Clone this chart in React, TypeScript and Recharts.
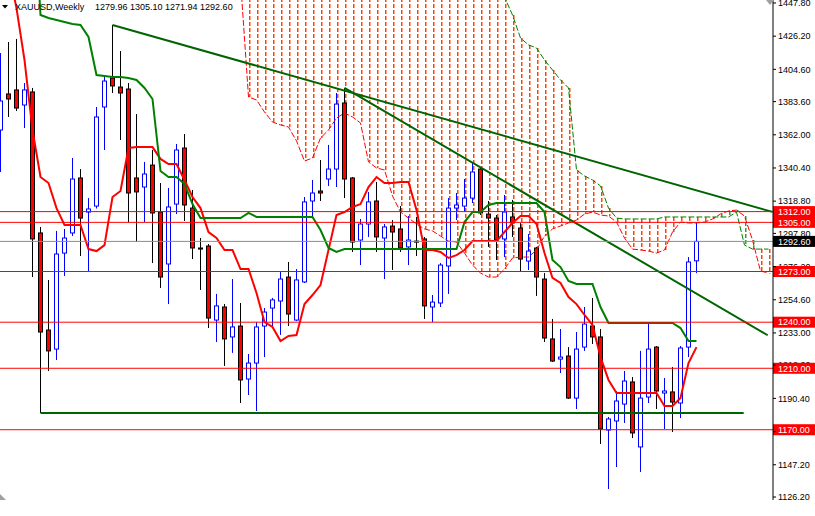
import React from 'react';
import { ComposedChart, Bar, Line, XAxis, YAxis, ReferenceLine } from 'recharts';

// weekly XAUUSD, one entry per week starting 19 May 2013
const dateTicks = [0, 8, 16, 24, 32, 40, 48, 56, 64, 72, 80];
const dateLabels = ['19 May 2013', '14 Jul 2013', '8 Sep 2013', '3 Nov 2013', '29 Dec 2013', '23 Feb 2014',
    '20 Apr 2014', '15 Jun 2014', '10 Aug 2014', '5 Oct 2014', '30 Nov 2014'];
const priceTicks = [1447.8, 1426.2, 1404.6, 1383.6, 1362.0, 1340.4, 1318.8, 1297.8, 1276.2, 1254.6,
    1233.0, 1212.0, 1190.4, 1168.8, 1147.2, 1126.2];

const opens = [
    1365.1, 1388.6, 1391.2, 1381.4, 1389.9, 1298.1, 1234.9, 1222.5, 1285.0, 1298.1,
    1333.9, 1311.7, 1315.6, 1380.1, 1399.0, 1393.1, 1391.8, 1333.9, 1328.0, 1342.3,
    1311.7, 1277.9, 1316.9, 1353.4, 1314.3, 1288.3, 1289.6, 1241.4, 1249.9, 1230.4,
    1237.5, 1203.0, 1213.4, 1237.5, 1249.2, 1253.8, 1269.4, 1241.4, 1266.2, 1318.9,
    1325.4, 1333.2, 1339.7, 1382.7, 1333.9, 1293.5, 1303.9, 1318.9, 1294.8, 1302.6,
    1300.7, 1289.0, 1292.8, 1294.2, 1249.9, 1252.5, 1276.6, 1314.3, 1315.6, 1320.8,
    1339.7, 1310.4, 1307.8, 1294.2, 1308.5, 1301.3, 1279.8, 1288.3, 1268.1, 1229.1,
    1216.0, 1218.0, 1190.6, 1223.8, 1237.5, 1230.4, 1169.8, 1175.7, 1186.7, 1201.1,
    1158.8, 1191.3, 1223.8, 1193.9, 1194.6, 1187.4, 1223.8, 1279.96,
];
const highs = [
    1415.2, 1422.4, 1424.4, 1395.7, 1392.5, 1302.0, 1267.5, 1299.4, 1300.7, 1346.9,
    1339.7, 1320.8, 1380.1, 1399.6, 1433.5, 1416.5, 1395.7, 1375.5, 1344.3, 1352.1,
    1330.6, 1327.4, 1356.0, 1362.5, 1326.1, 1294.8, 1290.9, 1258.4, 1251.8, 1268.1,
    1252.5, 1219.3, 1240.1, 1249.2, 1255.8, 1272.7, 1279.2, 1274.6, 1321.5, 1332.6,
    1345.6, 1355.4, 1389.2, 1392.5, 1334.5, 1307.2, 1324.8, 1331.3, 1303.9, 1306.5,
    1315.6, 1309.1, 1308.5, 1295.5, 1257.7, 1278.5, 1320.8, 1324.1, 1333.2, 1343.6,
    1340.4, 1318.9, 1309.8, 1322.8, 1319.6, 1304.6, 1297.4, 1289.0, 1272.0, 1242.1,
    1235.6, 1223.8, 1233.6, 1249.9, 1255.8, 1235.6, 1178.3, 1195.2, 1208.2, 1204.3,
    1221.3, 1238.8, 1224.5, 1203.7, 1210.8, 1224.5, 1282.4, 1305.10,
];
const lows = [
    1337.8, 1373.6, 1377.5, 1366.4, 1269.4, 1180.9, 1208.2, 1215.4, 1270.1, 1296.1,
    1283.1, 1273.3, 1314.0, 1352.1, 1389.2, 1358.6, 1305.2, 1292.2, 1305.2, 1278.5,
    1262.3, 1251.8, 1310.4, 1305.9, 1281.1, 1261.0, 1236.2, 1227.1, 1211.5, 1220.0,
    1187.4, 1192.6, 1182.2, 1217.3, 1236.2, 1231.7, 1237.5, 1240.8, 1265.5, 1308.5,
    1318.9, 1328.7, 1328.0, 1320.8, 1285.7, 1277.2, 1295.5, 1285.7, 1268.1, 1274.0,
    1285.7, 1277.2, 1283.1, 1242.1, 1240.1, 1249.9, 1258.4, 1306.5, 1311.7, 1317.6,
    1309.8, 1289.0, 1280.5, 1282.4, 1295.5, 1273.3, 1274.0, 1257.1, 1227.1, 1214.1,
    1206.9, 1190.0, 1183.5, 1221.3, 1225.8, 1160.7, 1131.4, 1145.7, 1174.4, 1164.6,
    1142.5, 1187.4, 1183.5, 1170.5, 1168.5, 1177.6, 1217.3, 1271.94,
];
const closes = [
    1384.0, 1385.3, 1379.4, 1391.2, 1294.2, 1233.6, 1221.3, 1284.4, 1294.8, 1333.2,
    1307.8, 1313.7, 1373.6, 1397.0, 1393.8, 1389.2, 1324.1, 1324.8, 1336.5, 1311.1,
    1269.4, 1315.0, 1352.1, 1316.3, 1288.3, 1287.6, 1242.7, 1250.6, 1229.1, 1236.9,
    1202.4, 1213.4, 1236.9, 1246.6, 1254.5, 1268.1, 1245.3, 1267.5, 1318.3, 1324.1,
    1324.1, 1339.7, 1382.0, 1333.2, 1292.2, 1303.9, 1318.3, 1295.5, 1302.0, 1298.7,
    1288.3, 1293.5, 1292.2, 1250.6, 1253.1, 1277.2, 1314.3, 1316.3, 1320.8, 1337.8,
    1311.1, 1307.8, 1293.5, 1311.7, 1304.6, 1281.1, 1286.3, 1269.4, 1229.7, 1214.7,
    1217.3, 1190.6, 1222.5, 1238.8, 1230.4, 1170.5, 1177.0, 1188.7, 1201.7, 1167.9,
    1190.6, 1222.5, 1195.2, 1195.2, 1188.0, 1223.2, 1279.2, 1292.60,
];

// Ichimoku lines
const tenkan = [
    1479.0, 1469.3, 1444.5, 1410.7, 1365.1, 1334.5, 1330.6, 1314.3, 1303.3, 1303.3,
    1303.3, 1287.6, 1286.3, 1290.2, 1321.5, 1325.4, 1353.4, 1354.0, 1354.0, 1354.0,
    1346.3, 1343.0, 1343.0, 1332.6, 1321.5, 1314.3, 1298.7, 1294.8, 1287.0, 1287.0,
    1274.6, 1274.6, 1259.0, 1240.1, 1236.9, 1227.7, 1231.0, 1231.6, 1251.8, 1257.7,
    1264.2, 1287.0, 1309.8, 1311.7, 1315.0, 1316.9, 1328.0, 1334.5, 1330.6, 1330.6,
    1331.3, 1331.3, 1313.0, 1287.0, 1287.0, 1285.7, 1281.8, 1283.7, 1287.0, 1292.8,
    1292.8, 1292.8, 1292.8, 1298.7, 1304.6, 1309.1, 1309.1, 1303.9, 1285.0, 1268.8,
    1265.5, 1256.4, 1251.8, 1244.7, 1238.2, 1217.3, 1202.4, 1193.9, 1193.9, 1193.9,
    1193.9, 1193.9, 1193.9, 1185.4, 1185.4, 1190.6, 1213.4, 1223.8,
];
const kijun = [
    1530.0, 1530.0, 1530.0, 1530.0, 1530.0, 1440.0, 1438.0, 1436.7, 1435.4, 1434.1,
    1433.5, 1425.7, 1400.9, 1400.3, 1399.6, 1399.6, 1399.0, 1397.7, 1392.5, 1385.3,
    1338.4, 1334.5, 1334.5, 1330.0, 1316.9, 1307.8, 1307.8, 1307.8, 1307.8, 1307.8,
    1307.8, 1311.1, 1308.5, 1308.5, 1308.5, 1308.5, 1308.5, 1308.5, 1308.5, 1308.5,
    1300.0, 1288.3, 1285.7, 1287.6, 1287.6, 1287.6, 1287.6, 1287.6, 1287.6, 1287.6,
    1287.6, 1287.6, 1287.6, 1287.6, 1287.6, 1287.6, 1287.6, 1287.6, 1305.2, 1311.7,
    1311.7, 1316.3, 1317.6, 1317.6, 1317.6, 1317.6, 1317.6, 1317.6, 1311.7, 1280.5,
    1275.9, 1266.8, 1264.9, 1264.9, 1264.9, 1249.9, 1239.5, 1239.5, 1239.5, 1239.5,
    1239.5, 1239.5, 1239.5, 1239.5, 1239.5, 1236.2, 1227.8, 1227.8,
];

// senkou spans, shifted forward, first value belongs to week 30
const kumoStart = 30;
const spanA = [
    1462.8, 1386.6, 1384.7, 1376.8, 1370.3, 1368.4, 1367.1, 1358.0, 1344.9, 1346.9,
    1359.9, 1365.1, 1372.9, 1376.2, 1373.6, 1369.7, 1344.3, 1340.4, 1339.1, 1322.2,
    1311.7, 1307.8, 1303.9, 1300.7, 1299.4, 1296.1, 1292.8, 1292.2, 1285.0, 1277.2,
    1272.0, 1269.4, 1269.4, 1274.6, 1281.8, 1282.4, 1282.4, 1287.0, 1296.1, 1300.7,
    1302.6, 1304.6, 1306.5, 1310.4, 1311.7, 1309.8, 1309.1, 1305.2, 1294.8, 1287.6,
    1287.0, 1286.3, 1285.0, 1287.0, 1298.7, 1305.2, 1304.6, 1304.6, 1305.2, 1307.2,
    1310.4, 1312.4, 1313.0, 1309.1, 1293.5, 1273.3, 1272.0,
];
const spanB = [
    1484.0, 1484.0, 1484.0, 1484.0, 1484.0, 1484.0, 1484.0, 1484.0, 1484.0, 1484.0,
    1484.0, 1484.0, 1480.0, 1480.0, 1480.0, 1480.0, 1480.0, 1478.0, 1478.0, 1478.0,
    1476.0, 1476.0, 1476.0, 1474.0, 1474.0, 1472.0, 1470.0, 1470.0, 1468.0, 1466.0,
    1466.0, 1464.0, 1462.8, 1451.7, 1440.0, 1425.0, 1420.5, 1418.5, 1410.7, 1404.2,
    1397.7, 1392.5, 1339.1, 1335.2, 1332.6, 1328.7, 1314.3, 1307.8, 1307.2, 1307.2,
    1307.2, 1307.2, 1307.2, 1308.5, 1308.5, 1308.5, 1308.5, 1308.5, 1308.5, 1308.5,
    1308.5, 1308.5, 1311.7, 1290.2, 1287.6, 1287.6, 1287.6,
];

const levels = [1312, 1305, 1273, 1240, 1210, 1170];
const lastPrice = 1292.6;
const trendLines = [
    [{ x: 14, y: 1433.5 }, { x: 96.5, y: 1311.8 }],
    [{ x: 43, y: 1392.5 }, { x: 95.9, y: 1231.5 }],
    [{ x: 5, y: 1180.9 }, { x: 92.9, y: 1180.9 }],
];

const lastIndex = 96;
const rows: any[] = [];
for (let k = 0; k <= lastIndex; k++) {
    const r: any = { k };
    if (k < opens.length) {
        r.o = opens[k]; r.h = highs[k]; r.l = lows[k]; r.c = closes[k];
        r.candle = [lows[k], highs[k]];
        r.tenkan = tenkan[k];
        r.kijun = kijun[k];
    }
    const j = k - kumoStart;
    if (j >= 0 && j < spanA.length) {
        r.a = spanA[j];
        r.b = spanB[j];
        r.kumo = [Math.min(spanA[j], spanB[j]), Math.max(spanA[j], spanB[j])];
    }
    rows.push(r);
}

const FONT = '"Liberation Sans", Arial, sans-serif';
const FS = 9;
const HATCH_DOWN = '#FF4500';
const HATCH_UP = '#2DA02D';

const Candle = (props: any) => {
    const { x, y, width, height, payload } = props;
    if (payload == null || payload.h == null) return null;
    const top = Math.min(y, y + height);
    const len = Math.abs(height);
    const cx = Math.round(x + width / 2) + 0.5;
    const span = payload.h - payload.l;
    const yOf = (v: number) => (span === 0 ? top : top + ((payload.h - v) / span) * len);
    const up = payload.c >= payload.o;
    const bTop = yOf(Math.max(payload.o, payload.c));
    const bBot = yOf(Math.min(payload.o, payload.c));
    return (
        <g>
            <line x1={cx} x2={cx} y1={top} y2={top + len} stroke={up ? '#0000FF' : '#000000'} strokeWidth={1} />
            <rect x={cx - 2} y={bTop} width={4} height={Math.max(bBot - bTop, 1)}
                fill={up ? '#FFFFFF' : '#FF0000'} stroke={up ? '#0000FF' : '#000000'} strokeWidth={1} />
        </g>
    );
};

// dotted histogram between the two senkou spans
const KumoHatch = (props: any) => {
    const { x, y, width, height, payload } = props;
    if (payload == null || payload.a == null) return null;
    const top = Math.max(Math.min(y, y + height), -2);
    const bottom = Math.max(y, y + height);
    if (bottom <= top) return null;
    const left = Math.round(x + width / 2);
    const color = payload.a > payload.b ? HATCH_UP : HATCH_DOWN;
    const dashes = [];
    for (let yy = Math.round(top); yy < bottom; yy += 6) {
        dashes.push(
            <rect key={yy} x={left} y={yy} width={1.5} height={Math.max(Math.min(4, bottom - yy), 0.5)}
                fill={color} stroke="none" />
        );
    }
    return <g>{dashes}</g>;
};

const axisBox = (props: any, text: string, bg: string) => {
    const { viewBox } = props;
    if (!viewBox) return null;
    const right = viewBox.x + viewBox.width;
    return (
        <g>
            <rect x={right} y={viewBox.y - 5.5} width={42} height={11} fill={bg} />
            <text x={right + 5} y={viewBox.y} dy="0.36em" fill="#FFFFFF" fontSize={FS} fontFamily={FONT}>{text}</text>
        </g>
    );
};

const priceLabel = (props: any, value: number) => {
    const { viewBox } = props;
    if (!viewBox) return null;
    return (
        <text x={viewBox.x + viewBox.width + 5} y={viewBox.y} dy="0.36em" fill="#000000" fontSize={FS} fontFamily={FONT}>
            {value.toFixed(2)}
        </text>
    );
};

const NoTick = () => <g />;

const DateTick = (props: any) => {
    const { x, y, payload } = props;
    const idx = dateTicks.indexOf(payload.value);
    return (
        <text x={x + 1} y={y + 4.5} fill="#000000" fontSize={FS} fontFamily={FONT} textAnchor="start">
            {idx >= 0 ? dateLabels[idx] : ''}
        </text>
    );
};

const App = () => {
    const xDomain: [number, number] = [-0.0625, 96.5625];
    return (
        <div style={{ position: 'absolute', left: 0, top: 0, width: 815, height: 516, background: '#FFFFFF' }}>
            <ComposedChart width={815} height={516} data={rows} margin={{ top: 0, right: 0, bottom: 0, left: 0 }}>
                <XAxis xAxisId="main" dataKey="k" type="number" domain={xDomain} allowDataOverflow
                    ticks={dateTicks} tick={<DateTick />} tickSize={4} tickMargin={2} height={16}
                    axisLine={{ stroke: '#000000' }} tickLine={{ stroke: '#000000' }} interval={0} />
                <XAxis xAxisId="kumo" dataKey="k" type="number" domain={xDomain} allowDataOverflow hide />
                <YAxis orientation="right" type="number" domain={[1124.25, 1449.75]} allowDataOverflow
                    ticks={priceTicks} tick={<NoTick />} tickSize={3} tickMargin={2} width={42} interval={0}
                    axisLine={{ stroke: '#000000' }} tickLine={{ stroke: '#000000' }} />

                <Bar xAxisId="kumo" dataKey="kumo" barSize={2} fill={HATCH_DOWN} shape={<KumoHatch />} isAnimationActive={false} />
                <Line xAxisId="main" dataKey="a" type="linear" stroke="#FF0000" strokeWidth={1} strokeDasharray="6 2"
                    dot={false} isAnimationActive={false} />
                <Line xAxisId="main" dataKey="b" type="linear" stroke="#008000" strokeWidth={1} strokeDasharray="6 2"
                    dot={false} isAnimationActive={false} />

                <Bar xAxisId="main" dataKey="candle" barSize={7} shape={<Candle />} isAnimationActive={false} />

                <Line xAxisId="main" dataKey="tenkan" type="linear" stroke="#FF0000" strokeWidth={2}
                    dot={false} isAnimationActive={false} />
                <Line xAxisId="main" dataKey="kijun" type="linear" stroke="#008000" strokeWidth={2}
                    dot={false} isAnimationActive={false} />

                {trendLines.map((seg, i) => (
                    <ReferenceLine key={`tl-${i}`} xAxisId="main" segment={seg} stroke="#006400" strokeWidth={2} />
                ))}
                {priceTicks.map((t) => (
                    <ReferenceLine key={`pt-${t}`} xAxisId="main" y={t} stroke="none"
                        label={(p: any) => priceLabel(p, t)} />
                ))}
                <ReferenceLine xAxisId="main" y={lastPrice} stroke="#8C8C8C" strokeWidth={1}
                    label={(p: any) => axisBox(p, lastPrice.toFixed(2), '#000000')} />
                {levels.map((lv) => (
                    <ReferenceLine key={`lv-${lv}`} xAxisId="main" y={lv} stroke="#FF0000" strokeWidth={1}
                        label={(p: any) => axisBox(p, lv.toFixed(2), '#FF0000')} />
                ))}
            </ComposedChart>
            <svg width={815} height={516} style={{ position: 'absolute', left: 0, top: 0, pointerEvents: 'none' }}>
                <polygon points="2,5 8,5 5,8.5" fill="#000000" />
                <polygon points="766,0 774,0 770,5" fill="#A0A0A0" />
                <polygon points="0,494 0,500 6,500" fill="#A0A0A0" />
            </svg>
            <div style={{ position: 'absolute', left: 15, top: 2, fontFamily: FONT, fontSize: FS, color: '#000000', whiteSpace: 'pre', lineHeight: '11px' }}>
                XAUUSD,Weekly
            </div>
            <div style={{ position: 'absolute', left: 95, top: 2, fontFamily: FONT, fontSize: FS, color: '#000000', whiteSpace: 'pre', lineHeight: '11px' }}>
                1279.96 1305.10 1271.94 1292.60
            </div>
        </div>
    );
};

export default App;
